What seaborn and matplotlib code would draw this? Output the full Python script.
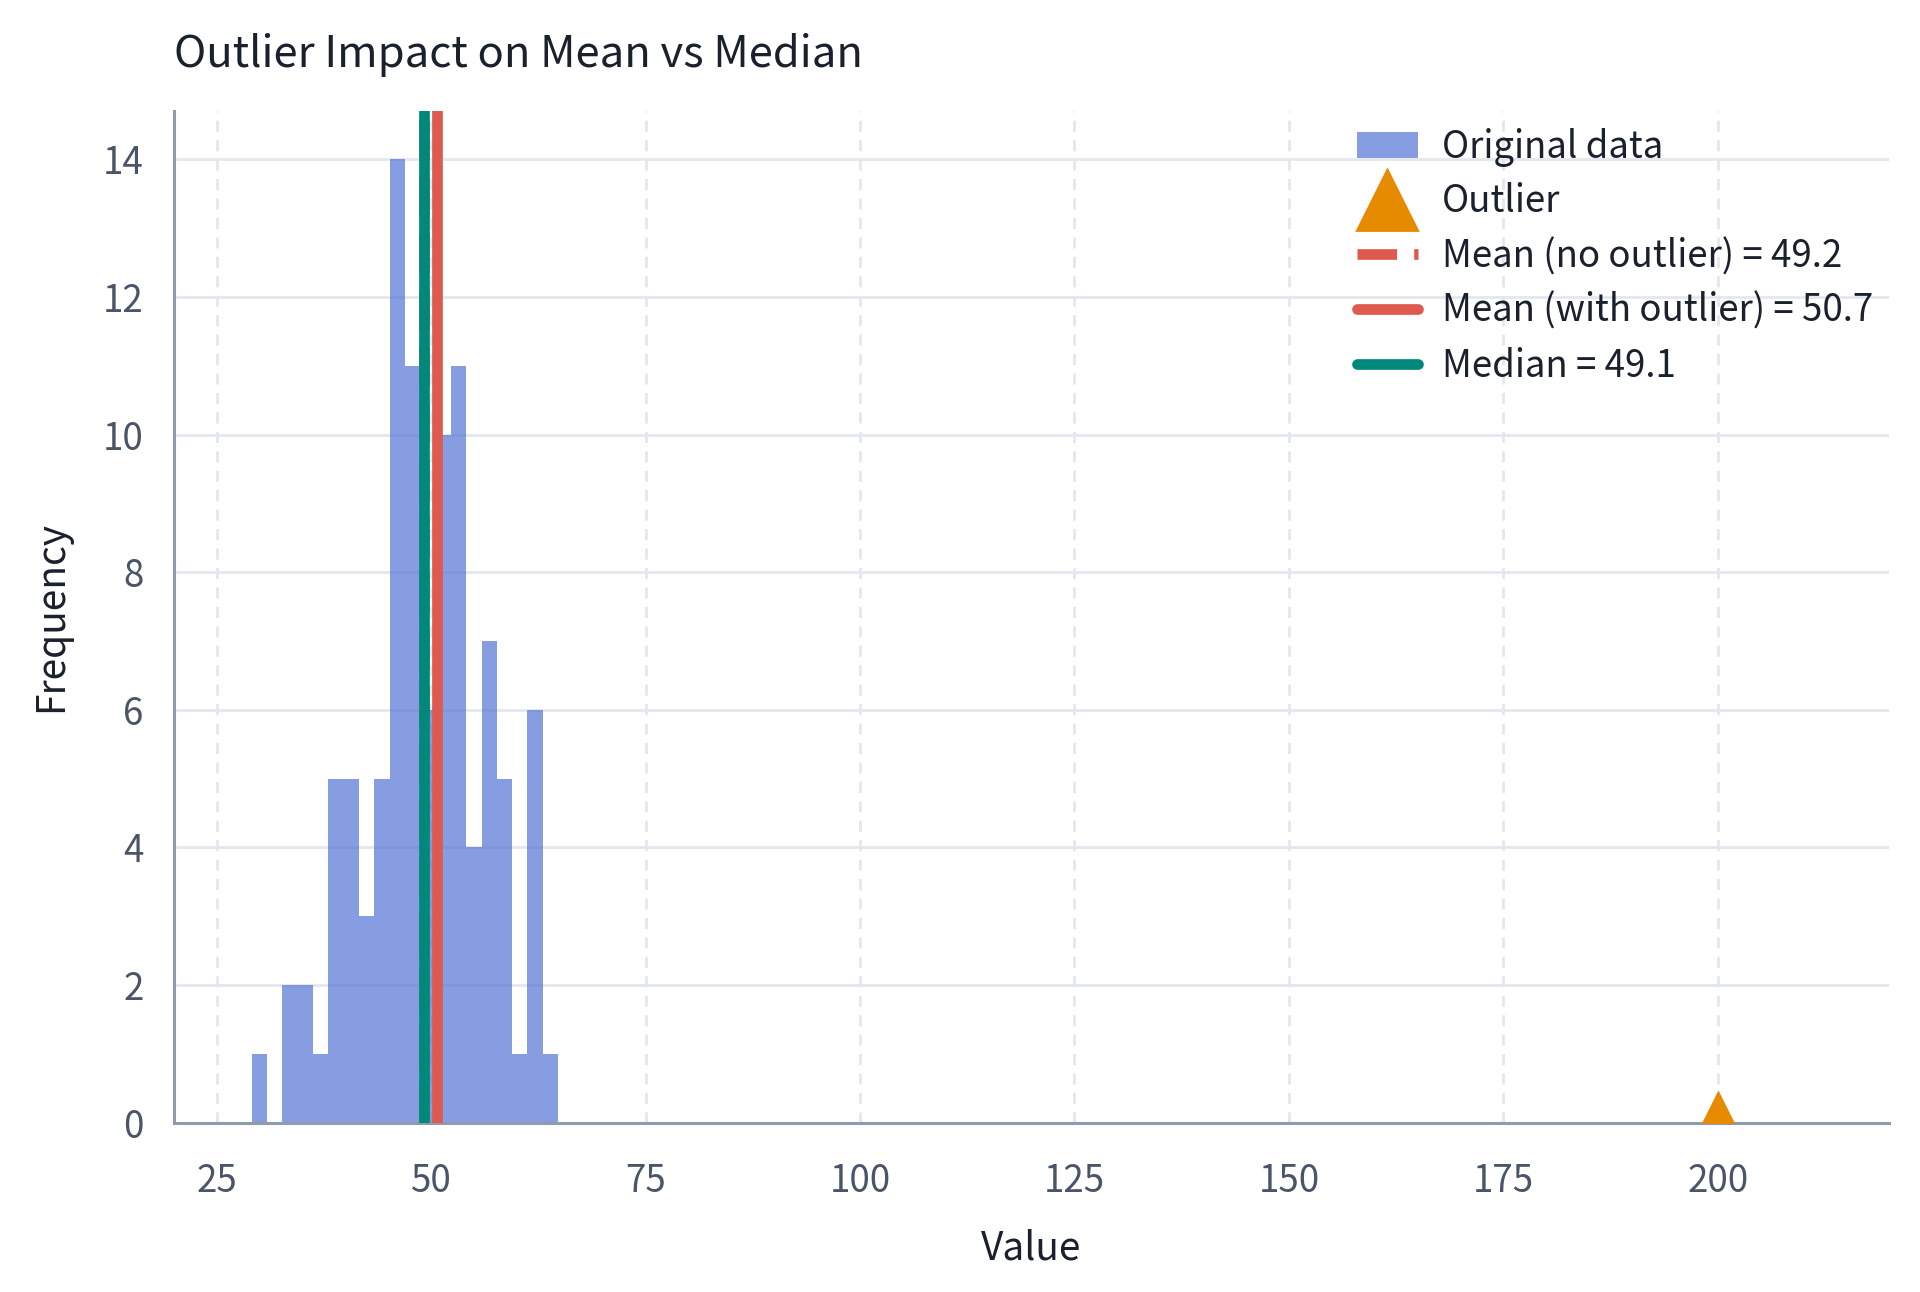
import matplotlib
matplotlib.use("Agg")
import matplotlib.pyplot as plt
import seaborn as sns
import pandas as pd
import numpy as np
from matplotlib.patches import Patch
from matplotlib.lines import Line2D

# histogram of the original sample (100 values)
bin_centers = [29.96, 31.75, 33.54, 35.32, 37.11, 38.89, 40.68, 42.47, 44.25, 46.04,
               47.82, 49.61, 51.40, 53.18, 54.97, 56.75, 58.54, 60.33, 62.11, 63.90]
counts = [1, 0, 2, 2, 1, 5, 5, 3, 5, 14, 11, 6, 10, 11, 4, 7, 5, 1, 6, 1]
data_range = (29.07, 64.79)
n_bins = 20

outlier_value = 200
mean_no_outlier = 49.2
mean_with_outlier = 50.7
median_value = 49.1

c_bars = "#4F6FD4"
c_outlier = "#E68A00"
c_mean = "#DE5A4E"
c_median = "#00897B"
c_grid = "#E3E8EF"
c_spine = "#8E9BAE"
c_tick = "#4A5568"
c_text = "#1A202C"

df = pd.DataFrame({"value": bin_centers, "count": counts})

sns.set_style("white")
plt.rcParams["font.family"] = ["Noto Sans CJK KR", "DejaVu Sans"]

fig, ax = plt.subplots(figsize=(9.6, 6.46), dpi=200)
fig.subplots_adjust(left=0.0906, right=0.984, top=0.914, bottom=0.131)

sns.histplot(data=df, x="value", weights="count", bins=n_bins, binrange=data_range,
             color=c_bars, alpha=0.68, edgecolor="none", linewidth=0, ax=ax, zorder=2)

ax.axvline(mean_no_outlier, color=c_mean, lw=3.85, ls="--", zorder=3)
ax.axvline(mean_with_outlier, color=c_mean, lw=3.85, zorder=4)
ax.axvline(median_value, color=c_median, lw=3.85, zorder=5)
ax.plot([outlier_value], [0], marker="^", markersize=21.6, color=c_outlier,
        linestyle="none", zorder=6)

ax.set_xlim(20, 220)
ax.set_xticks([25, 50, 75, 100, 125, 150, 175, 200])
ax.set_yticks([0, 2, 4, 6, 8, 10, 12, 14])

ax.grid(axis="y", color=c_grid, lw=1.0, ls="-", zorder=0)
ax.grid(axis="x", color=c_grid, lw=1.0, ls=(0, (4, 3)), zorder=0)
ax.set_axisbelow(True)

for s in ["top", "right"]:
    ax.spines[s].set_visible(False)
for s in ["left", "bottom"]:
    ax.spines[s].set_color(c_spine)
    ax.spines[s].set_linewidth(1.1)

ax.tick_params(axis="both", length=4, width=1.1, color=c_tick, labelcolor=c_tick,
               labelsize=13.2)
ax.tick_params(axis="x", pad=10)
ax.tick_params(axis="y", pad=7)

ax.set_xlabel("Value", fontsize=14, color=c_text, labelpad=10)
ax.set_ylabel("Frequency", fontsize=14, color=c_text, labelpad=11.5)
ax.set_title("Outlier Impact on Mean vs Median", loc="left", fontsize=15.7,
             color=c_text, pad=16)

handles = [
    Patch(facecolor=c_bars, alpha=0.68, edgecolor="none", label="Original data"),
    Line2D([], [], marker="^", markersize=21.6, color=c_outlier, linestyle="none",
           label="Outlier"),
    Line2D([], [], color=c_mean, lw=3.85, ls="--", label=f"Mean (no outlier) = {mean_no_outlier}"),
    Line2D([], [], color=c_mean, lw=3.85, solid_capstyle="round",
           label=f"Mean (with outlier) = {mean_with_outlier}"),
    Line2D([], [], color=c_median, lw=3.85, solid_capstyle="round",
           label=f"Median = {median_value}"),
]
leg = ax.legend(handles=handles, loc="upper right", frameon=False, fontsize=13.2,
                handlelength=1.65, handletextpad=0.65, labelspacing=0.43,
                borderaxespad=0.05)
for t in leg.get_texts():
    t.set_color(c_text)

fig.savefig("out.png", dpi=200)
